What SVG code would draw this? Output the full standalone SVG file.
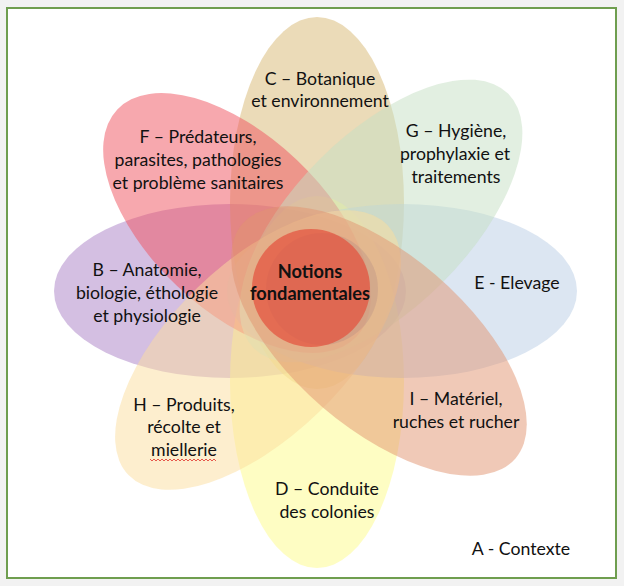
<svg xmlns="http://www.w3.org/2000/svg" width="624" height="586" viewBox="0 0 624 586">
<style>
.p{stroke:none;opacity:0.5}
.t{font-family:Lato,"Open Sans","Liberation Sans",sans-serif;font-size:17.7px;fill:#111;text-anchor:middle}
.b{font-weight:bold;font-size:18.2px}
</style>
<rect x="0" y="0" width="624" height="586" fill="#f2f2f2"/>
<rect id="frame" x="7" y="8" width="609" height="570" fill="#ffffff" stroke="#6f9e4f" stroke-width="2"/>
<g id="petals">
<g id="B"><ellipse class="p" cx="230" cy="291" rx="176" ry="87" fill="#a97fc5"/></g>
<g id="C"><ellipse class="p" cx="317" cy="203" rx="87" ry="186" fill="#d7b771"/></g>
<g id="D"><ellipse class="p" cx="317" cy="382" rx="87" ry="186" fill="#fdfb87"/></g>
<g id="E"><ellipse class="p" cx="402" cy="291" rx="175" ry="87" fill="#b9cde5"/></g>
<g id="F"><ellipse class="p" cx="0" cy="0" rx="165" ry="87" fill="#ef515d" transform="translate(237 223) rotate(43.5)"/></g>
<g id="G"><ellipse class="p" cx="0" cy="0" rx="180" ry="87" fill="#c5dfc3" transform="translate(381 221) rotate(-45)"/></g>
<g id="H"><ellipse class="p" cx="0" cy="0" rx="180" ry="87" fill="#fbdd9d" transform="translate(258 350) rotate(-44)"/></g>
<g id="I"><ellipse class="p" cx="0" cy="0" rx="180" ry="87" fill="#e1936f" transform="translate(379 341) rotate(40.7)"/></g>
</g>
<g id="center">
<circle cx="322" cy="289" r="56" fill="#7a5a7a" opacity="0.15"/>
<circle cx="311" cy="288" r="59" fill="#e4503c" opacity="0.7"/>
<text class="t b" x="310" y="278">Notions</text>
<text class="t b" x="310" y="300">fondamentales</text>
</g>
<g id="connectors"></g>
<g id="labels">
<text class="t" x="320" y="85">C – Botanique</text>
<text class="t" x="320" y="107">et environnement</text>
<text class="t" x="198" y="143">F – Prédateurs,</text>
<text class="t" x="198" y="166">parasites, pathologies</text>
<text class="t" x="198" y="189">et problème sanitaires</text>
<text class="t" x="456" y="137">G – Hygiène,</text>
<text class="t" x="455" y="160">prophylaxie et</text>
<text class="t" x="456" y="183">traitements</text>
<text class="t" x="147" y="276">B – Anatomie,</text>
<text class="t" x="147" y="299">biologie, éthologie</text>
<text class="t" x="147" y="322">et physiologie</text>
<text class="t" x="517" y="289">E - Elevage</text>
<text class="t" x="184" y="411">H – Produits,</text>
<text class="t" x="184" y="433">récolte et</text>
<text class="t" x="184" y="456">miellerie</text>
<path d="M150 459 l2 2 l2 -2 l2 2 l2 -2 l2 2 l2 -2 l2 2 l2 -2 l2 2 l2 -2 l2 2 l2 -2 l2 2 l2 -2 l2 2 l2 -2 l2 2 l2 -2 l2 2 l2 -2 l2 2 l2 -2 l2 2 l2 -2 l2 2 l2 -2 l2 2 l2 -2 l2 2 l2 -2 l2 2 l2 -2 l2 2" fill="none" stroke="#e0302a" stroke-width="0.8"/>
<text class="t" x="456" y="405">I – Matériel,</text>
<text class="t" x="456" y="428">ruches et rucher</text>
<text class="t" x="327" y="495">D – Conduite</text>
<text class="t" x="327" y="518">des colonies</text>
<text class="t" x="521" y="555">A - Contexte</text>
</g>
</svg>
